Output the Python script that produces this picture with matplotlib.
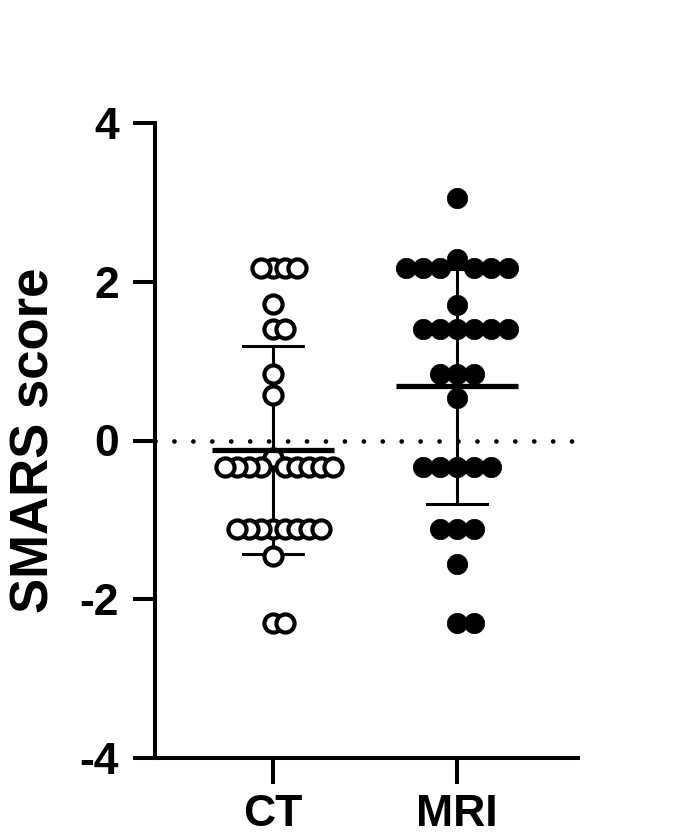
import numpy as np
import matplotlib.pyplot as plt

plt.rcParams['font.family'] = ['Liberation Sans', 'DejaVu Sans']
plt.rcParams['font.weight'] = 'bold'
plt.rcParams['axes.unicode_minus'] = False

# SMARS scores
groups = ['CT', 'MRI']
ct_scores = [2.17, 2.17, 2.17, 2.17, 1.72, 1.40, 1.40, 0.84, 0.57, -0.22,
             -0.34, -0.34, -0.34, -0.34, -0.34, -0.34, -0.34, -0.34, -0.34,
             -1.11, -1.11, -1.11, -1.11, -1.11, -1.11, -1.11, -1.11,
             -1.45, -2.30, -2.30]
mri_scores = [3.06, 2.29, 2.17, 2.17, 2.17, 2.17, 2.17, 2.17, 1.71,
              1.41, 1.41, 1.41, 1.41, 1.41, 1.41, 0.84, 0.84, 0.84, 0.54,
              -0.34, -0.34, -0.34, -0.34, -0.34, -1.11, -1.11, -1.11,
              -1.55, -2.30, -2.30]
yticks = [-4, -2, 0, 2, 4]

W, H = 685, 840
fig = plt.figure(figsize=(W / 100, H / 100), dpi=100)
ax_left, ax_right, ax_top, ax_bot = 155, 578, 123, 758
ax = fig.add_axes([ax_left / W, 1 - ax_bot / H, (ax_right - ax_left) / W, (ax_bot - ax_top) / H])
xlim = (-0.641, 1.658)
ylim = (-4, 4)
ax.set_xlim(*xlim)
ax.set_ylim(*ylim)

px_x = (ax_right - ax_left) / (xlim[1] - xlim[0])
px_y = (ax_bot - ax_top) / (ylim[1] - ylim[0])


def swarm(values, slot):
    # place points top-down, trying centre then alternating slots
    vals = np.asarray(values)
    offs = np.zeros(len(vals))
    placed = []
    for i in np.argsort(-vals, kind='stable'):
        y = vals[i] * px_y
        k = 0
        while True:
            cands = [0] if k == 0 else [k, -k]
            ok = None
            for c in cands:
                x = c * slot
                if all(np.hypot(x - a, y - b) >= slot - 0.1 for a, b in placed):
                    ok = x
                    break
            if ok is not None:
                offs[i] = ok
                placed.append((ok, y))
                break
            k += 1
    return offs / px_x


ax.axhline(0, color='black', lw=3.4, linestyle=(0, (0.01, 4.0)),
           dash_capstyle='round', zorder=1)

ct_x = 0 + swarm(ct_scores, 12)
mri_x = 1 + swarm(mri_scores, 17)
ax.scatter(ct_x, ct_scores, s=170, facecolor='white', edgecolor='black',
           linewidth=3.0, zorder=3, clip_on=False)
ax.scatter(mri_x, mri_scores, s=215, facecolor='black', edgecolor='black',
           linewidth=0.5, zorder=3, clip_on=False)

for xi, vals in enumerate([ct_scores, mri_scores]):
    m = np.mean(vals)
    sd = np.std(vals, ddof=1)
    ax.plot([xi, xi], [m - sd, m + sd], color='black', lw=2.2, zorder=2)
    for y in (m - sd, m + sd):
        ax.plot([xi - 0.165, xi + 0.165], [y, y], color='black', lw=2.2, zorder=2)
    ax.plot([xi - 0.33, xi + 0.33], [m, m], color='black', lw=3.8, zorder=4,
            solid_capstyle='butt')

for s in ['top', 'right']:
    ax.spines[s].set_visible(False)
for s in ['left', 'bottom']:
    ax.spines[s].set_linewidth(2.9)

ax.set_yticks(yticks)
ax.set_yticklabels([str(t) for t in yticks])
ax.set_xticks([0, 1])
ax.set_xticklabels(groups)
ax.tick_params(axis='y', length=16, width=2.9, labelsize=32, pad=10)
ax.tick_params(axis='x', length=19, width=2.9, labelsize=32, pad=7)
ax.set_ylabel('SMARS score', fontsize=38, fontweight='bold', labelpad=14)

fig.savefig('out.png', dpi=100)
